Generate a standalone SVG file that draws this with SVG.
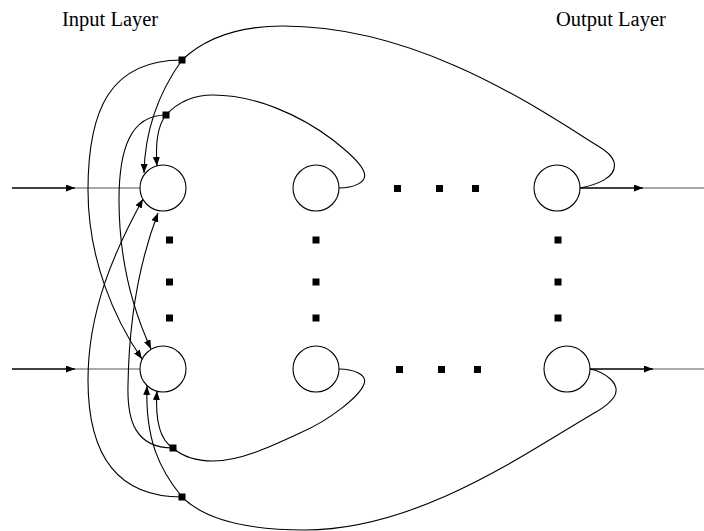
<svg xmlns="http://www.w3.org/2000/svg" width="704" height="531" viewBox="0 0 704 531">
<style>
.lbl{font-family:"Liberation Serif","Times New Roman",serif;font-size:20.5px;fill:#000}
.node{fill:#fff;stroke:#000;stroke-width:1.1}
.c{fill:none;stroke:#000;stroke-width:1.1}
.io{fill:none;stroke:#000;stroke-width:1.6}
.tail{fill:none;stroke:#555;stroke-width:1}
.dot{fill:#000}
</style>
<defs>
<marker id="ah" markerUnits="userSpaceOnUse" markerWidth="10" markerHeight="8" refX="9" refY="3.5" orient="auto">
<path d="M0,0 L9,3.5 L0,7 Z" fill="#000"/>
</marker>
</defs>
<rect width="704" height="531" fill="#fff"/>
<text class="lbl" x="62" y="26">Input Layer</text>
<text class="lbl" x="556" y="26">Output Layer</text>
<g id="connectors">
<!-- inputs -->
<path class="io" d="M12,188 L75,188" marker-end="url(#ah)"/>
<path class="tail" d="M75,188 L140,188"/>
<path class="io" d="M12,369 L75,369" marker-end="url(#ah)"/>
<path class="tail" d="M75,369 L140,369"/>
<!-- outputs -->
<path class="io" d="M580,188 L643,188" marker-end="url(#ah)"/>
<path class="tail" d="M643,188 L704,188"/>
<path class="io" d="M590,369 L653,369" marker-end="url(#ah)"/>
<path class="tail" d="M653,369 L704,369"/>
<!-- top feedback loops -->
<path class="c" d="M580,188 C595,185 618,178 614,162 C612,155 605,150 598,146 C540,110 420,26 283,26 C240,26 205,38 182,60"/>
<path class="c" d="M339,188 C352,188 368,183 364,172 C360,160 340,146 333,140 C300,115 255,95 213,95 C192,95 177,103 166,115"/>
<!-- square 1 branches -->
<path class="c" d="M182,60 C162,88 145,125 144,173" marker-end="url(#ah)"/>
<path class="c" d="M182,60 C110,60 88,110 88,190 C88,260 115,320 142,359" marker-end="url(#ah)"/>
<!-- square 2 branches -->
<path class="c" d="M166,115 C158,125 155,140 157,166" marker-end="url(#ah)"/>
<path class="c" d="M166,115 C130,115 119,150 119,200 C119,260 133,310 151,349" marker-end="url(#ah)"/>
<!-- bottom feedback loops -->
<path class="c" d="M590,369 C605,372 622,384 614,397 C610,403 603,408 596,412 C530,450 420,530 305,530 C250,530 205,520 182,497"/>
<path class="c" d="M339,369 C352,369 368,374 364,384 C360,396 330,420 300,433 C270,447 240,461 213,461 C195,461 182,456 173,448"/>
<!-- square 3 branches -->
<path class="c" d="M173,448 C160,440 155,420 157,391" marker-end="url(#ah)"/>
<path class="c" d="M173,448 C135,448 127,420 128,385 C129,320 140,260 158,213" marker-end="url(#ah)"/>
<!-- square 4 branches -->
<path class="c" d="M182,497 C160,470 145,440 147,386" marker-end="url(#ah)"/>
<path class="c" d="M182,497 C110,497 88,445 88,380 C88,310 115,250 143,199" marker-end="url(#ah)"/>
<!-- junctions -->
<rect class="dot" x="178.5" y="56.5" width="7" height="7"/>
<rect class="dot" x="162.5" y="111.5" width="7" height="7"/>
<rect class="dot" x="169.5" y="444.5" width="7" height="7"/>
<rect class="dot" x="178.5" y="493.5" width="7" height="7"/>
</g>
<g id="n_tl"><circle class="node" cx="163" cy="188" r="23"/></g>
<g id="n_tm"><circle class="node" cx="316" cy="188" r="23"/></g>
<g id="n_tr"><circle class="node" cx="557" cy="188" r="23"/></g>
<g id="n_bl"><circle class="node" cx="163" cy="369" r="23"/></g>
<g id="n_bm"><circle class="node" cx="316" cy="369" r="23"/></g>
<g id="n_br"><circle class="node" cx="567" cy="369" r="23"/></g>
<g id="ellipsis">
<rect class="dot" x="394" y="185" width="7" height="7"/>
<rect class="dot" x="436" y="185" width="7" height="7"/>
<rect class="dot" x="472" y="185" width="7" height="7"/>
<rect class="dot" x="396" y="366" width="7" height="7"/>
<rect class="dot" x="438" y="366" width="7" height="7"/>
<rect class="dot" x="474" y="366" width="7" height="7"/>
<rect class="dot" x="166" y="236.5" width="7" height="7"/>
<rect class="dot" x="166" y="278.5" width="7" height="7"/>
<rect class="dot" x="166" y="314.5" width="7" height="7"/>
<rect class="dot" x="312.5" y="236.5" width="7" height="7"/>
<rect class="dot" x="312.5" y="278.5" width="7" height="7"/>
<rect class="dot" x="312.5" y="314.5" width="7" height="7"/>
<rect class="dot" x="554.5" y="236.5" width="7" height="7"/>
<rect class="dot" x="554.5" y="278.5" width="7" height="7"/>
<rect class="dot" x="554.5" y="314.5" width="7" height="7"/>
</g>
</svg>
